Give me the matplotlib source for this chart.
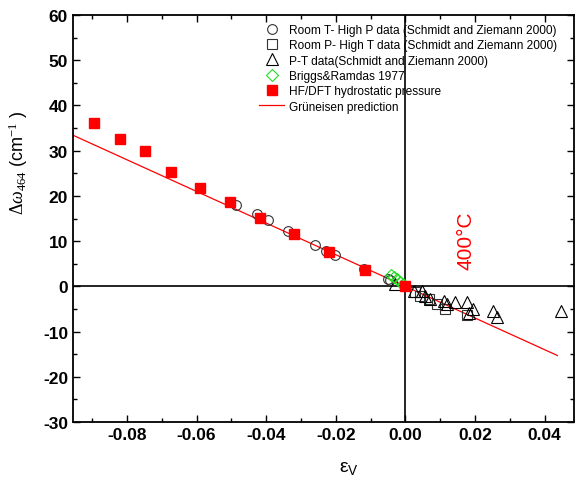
import numpy as np
import matplotlib
matplotlib.use('Agg')
import matplotlib.pyplot as plt
from matplotlib.ticker import MultipleLocator

plt.rcParams['font.family'] = ['Liberation Sans', 'DejaVu Sans']
plt.rcParams['mathtext.fontset'] = 'custom'
plt.rcParams['mathtext.rm'] = 'Liberation Serif'
plt.rcParams['mathtext.it'] = 'Liberation Serif:italic'

# Room T - high P (circles)
room_t_x = [-0.0486, -0.0426, -0.0395, -0.0337, -0.0259, -0.0227, -0.0201, -0.0118, -0.0049, -0.0043]
room_t_y = [18.0, 15.9, 14.7, 12.3, 9.2, 7.9, 7.0, 3.8, 1.6, 1.4]

# Room P - high T (squares)
room_p_x = [0.0029, 0.0043, 0.0067, 0.0091, 0.0115, 0.0177]
room_p_y = [-1.3, -2.1, -2.9, -3.8, -5.0, -6.3]

# P-T data (triangles)
pt_x = [-0.0029, 0.0024, 0.0048, 0.0057, 0.0072, 0.0110, 0.0120, 0.0144,
        0.0177, 0.0182, 0.0194, 0.0252, 0.0263, 0.0447]
pt_y = [0.5, -1.1, -1.1, -2.1, -2.8, -3.2, -4.0, -3.5,
        -3.5, -5.8, -5.0, -5.4, -6.7, -5.5]

# Briggs & Ramdas 1977 (diamonds)
briggs_x = [-0.0041, -0.0033, -0.0024, -0.0015, -0.0006]
briggs_y = [2.5, 2.0, 1.6, 1.0, 0.5]

# HF/DFT hydrostatic pressure (filled squares)
dft_x = [-0.0894, -0.0821, -0.0747, -0.0672, -0.0591, -0.0505, -0.0419, -0.0319, -0.0220, -0.0115, 0.0]
dft_y = [36.2, 32.6, 29.9, 25.2, 21.7, 18.6, 15.1, 11.6, 7.5, 3.6, 0.0]

# Grueneisen prediction
grun_x = [-0.0955, 0.0437]
grun_slope = -350.0

fig = plt.figure(figsize=(5.76, 4.81), dpi=100)
ax = fig.add_axes([0.1267, 0.1206, 0.870, 0.846])

ax.axhline(0, color='black', lw=1.2, zorder=1)
ax.axvline(0, color='black', lw=1.2, zorder=1)

ax.plot(room_t_x, room_t_y, 'o', ms=7, mfc='none', mec='#333333', mew=0.8,
        ls='none', label='Room T- High P data (Schmidt and Ziemann 2000)', zorder=3)
ax.plot(room_p_x, room_p_y, 's', ms=6.5, mfc='none', mec='#333333', mew=0.8,
        ls='none', label='Room P- High T data (Schmidt and Ziemann 2000)', zorder=3)
ax.plot(pt_x, pt_y, '^', ms=8, mfc='none', mec='black', mew=0.8,
        ls='none', label='P-T data(Schmidt and Ziemann 2000)', zorder=3)
ax.plot(briggs_x, briggs_y, 'D', ms=6, mfc='none', mec='#22dd22', mew=0.8,
        ls='none', label='Briggs&Ramdas 1977', zorder=4)
ax.plot(dft_x, dft_y, 's', ms=7, mfc='red', mec='red',
        ls='none', label='HF/DFT hydrostatic pressure', zorder=5)
gx = np.array(grun_x)
ax.plot(gx, grun_slope * gx, '-', color='red', lw=0.9,
        label='Grüneisen prediction', zorder=2)

ax.text(0.0173, 10.2, '400°C', color='red', fontsize=15, rotation=90,
        ha='center', va='center')

ax.set_xlim(-0.0955, 0.0485)
ax.set_ylim(-30, 60)
ax.xaxis.set_major_locator(MultipleLocator(0.02))
ax.xaxis.set_minor_locator(MultipleLocator(0.01))
ax.yaxis.set_major_locator(MultipleLocator(10))
ax.yaxis.set_minor_locator(MultipleLocator(5))
ax.set_xticks([-0.08, -0.06, -0.04, -0.02, 0.0, 0.02, 0.04])
ax.set_xticklabels(['-0.08', '-0.06', '-0.04', '-0.02', '0.00', '0.02', '0.04'])
ax.set_yticks(range(-30, 70, 10))
ax.set_yticklabels([str(v) for v in range(-30, 70, 10)])
ax.tick_params(which='both', direction='in', top=True, right=True, width=1.0)
ax.tick_params(which='major', length=5)
ax.tick_params(which='minor', length=3)
for lab in ax.get_xticklabels() + ax.get_yticklabels():
    lab.set_fontweight('bold')
    lab.set_fontsize(12.5)
for sp in ax.spines.values():
    sp.set_linewidth(1.3)

ax.set_xlabel(r'$\mathregular{\varepsilon_V}$', fontsize=14)
ax.xaxis.set_label_coords(0.55, -0.09)
ax.set_ylabel(r'$\Delta\omega_{464}$ (cm$^{-1}$ )', fontsize=13)
ax.yaxis.set_label_coords(-0.085, 0.64)

ax.legend(loc='upper left', bbox_to_anchor=(0.362, 0.99), frameon=False,
          fontsize=8.6, handlelength=2.1, handletextpad=0.4, labelspacing=0.28,
          borderaxespad=0)

fig.savefig('out.png', dpi=100)
